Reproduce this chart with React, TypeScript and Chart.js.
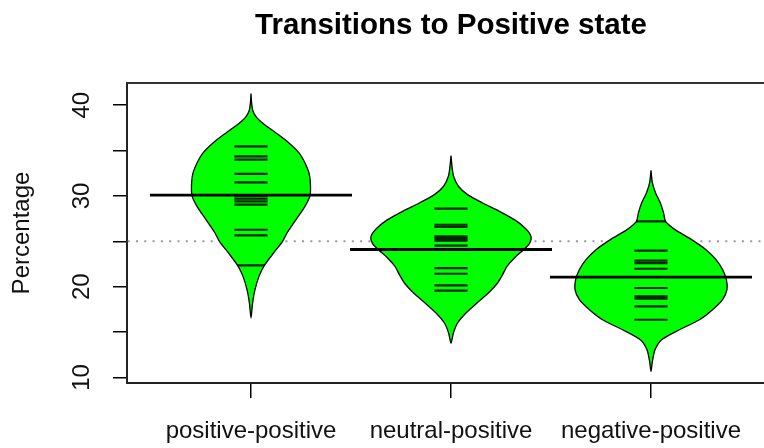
import React, { useEffect, useRef } from 'react';
import { Chart, registerables } from 'chart.js';

Chart.register(...registerables);

const FONT = '"Liberation Sans", Arial, Helvetica, sans-serif';

const chartTitle = 'Transitions to Positive state';
const yAxisTitle = 'Percentage';
const categories = ['positive-positive', 'neutral-positive', 'negative-positive'];
const beanPositions = [1, 2, 3];
const yTicks = [10, 15, 20, 25, 30, 35, 40];
const yTickLabels = [10, 20, 30, 40];

const groupMeans = [30.1, 24.1, 21.05];
const overallMean = 25.0;

// individual observations (bean lines)
const positivePositiveObs = [35.47, 34.37, 34.0, 32.43, 31.5, 30.03, 29.7, 29.4, 29.04, 26.28, 25.66, 22.35];
const neutralPositiveObs = [28.6, 26.83, 26.58, 25.55, 25.29, 25.07, 24.52, 22.06, 21.43, 20.14, 19.56];
const negativePositiveObs = [27.2, 23.97, 22.87, 22.61, 21.98, 19.86, 18.93, 18.68, 17.83, 16.36];

// bean density outlines: level (y) and half-width (x units)
const positivePositiveDensityY = [41.29, 40.26, 39.34, 38.6, 37.87, 36.95, 35.85, 34.75, 33.64, 32.54, 31.44, 30.04, 28.86, 27.39, 25.92, 25.0, 23.72, 22.35, 21.14, 19.67, 18.2, 16.55];
const positivePositiveDensityW = [0, 0.003, 0.01, 0.03, 0.067, 0.125, 0.19, 0.24, 0.27, 0.29, 0.297, 0.295, 0.27, 0.225, 0.18, 0.158, 0.113, 0.067, 0.04, 0.02, 0.008, 0];
const neutralPositiveDensityY = [34.45, 33.27, 32.17, 31.07, 30.15, 29.23, 28.31, 27.39, 26.47, 25.55, 24.75, 24.08, 23.17, 22.24, 21.33, 20.41, 19.3, 18.2, 17.1, 16.0, 14.9, 13.79];
const neutralPositiveDensityW = [0, 0.005, 0.013, 0.037, 0.083, 0.158, 0.242, 0.317, 0.37, 0.4, 0.392, 0.363, 0.317, 0.28, 0.258, 0.233, 0.187, 0.13, 0.075, 0.033, 0.012, 0];
const negativePositiveDensityY = [32.83, 31.44, 30.34, 29.23, 28.13, 27.2, 26.29, 25.19, 24.08, 22.98, 21.88, 20.78, 19.67, 18.57, 17.47, 16.36, 15.26, 14.16, 13.05, 11.76, 10.66];
const negativePositiveDensityW = [0, 0.007, 0.023, 0.047, 0.063, 0.073, 0.12, 0.203, 0.275, 0.325, 0.358, 0.377, 0.38, 0.358, 0.308, 0.242, 0.142, 0.053, 0.02, 0.007, 0];

const observations = [positivePositiveObs, neutralPositiveObs, negativePositiveObs];
const densityY = [positivePositiveDensityY, neutralPositiveDensityY, negativePositiveDensityY];
const densityW = [positivePositiveDensityW, neutralPositiveDensityW, negativePositiveDensityW];

const X_MIN = 0.38;
const X_MAX = 3.565;
const Y_MIN = 9.39;
const Y_MAX = 42.45;
const BEANLINE_HALF = 0.083;
const MEANLINE_HALF = 0.505;

function beanOutline(i: number) {
  const c = beanPositions[i];
  const ys = densityY[i];
  const ws = densityW[i];
  const pts: { x: number; y: number }[] = [];
  for (let k = 0; k < ys.length; k++) pts.push({ x: c - ws[k], y: ys[k] });
  for (let k = ys.length - 2; k >= 0; k--) pts.push({ x: c + ws[k], y: ys[k] });
  return pts;
}

function beanLines(i: number) {
  const c = beanPositions[i];
  const pts: { x: number; y: number | null }[] = [];
  observations[i].forEach((v) => {
    pts.push({ x: c - BEANLINE_HALF, y: v });
    pts.push({ x: c + BEANLINE_HALF, y: v });
    pts.push({ x: c, y: null });
  });
  return pts;
}

function meanLines() {
  const pts: { x: number; y: number | null }[] = [];
  groupMeans.forEach((m, i) => {
    const c = beanPositions[i];
    pts.push({ x: c - MEANLINE_HALF, y: m });
    pts.push({ x: c + MEANLINE_HALF, y: m });
    pts.push({ x: c, y: null });
  });
  return pts;
}

const beanClipPlugin = {
  id: 'beanClip',
  beforeDatasetDraw(chart: any, args: any) {
    const ds = chart.data.datasets[args.index];
    if (ds.clipToBean === undefined) return;
    const line = chart.getDatasetMeta(ds.clipToBean).dataset;
    const ctx = chart.ctx;
    ctx.save();
    ctx.beginPath();
    line.path(ctx);
    ctx.closePath();
    ctx.clip();
  },
  afterDatasetDraw(chart: any, args: any) {
    const ds = chart.data.datasets[args.index];
    if (ds.clipToBean === undefined) return;
    chart.ctx.restore();
  },
};

const boxAndTitlePlugin = {
  id: 'boxAndTitle',
  beforeDatasetsDraw(chart: any) {
    const { ctx, chartArea } = chart;
    ctx.save();
    ctx.strokeStyle = '#333';
    ctx.lineWidth = 2;
    ctx.beginPath();
    ctx.moveTo(chartArea.left, chartArea.top);
    ctx.lineTo(chartArea.right, chartArea.top);
    ctx.stroke();
    ctx.restore();
  },
  afterDraw(chart: any) {
    const { ctx } = chart;
    const xs = chart.scales.x;
    ctx.save();
    ctx.font = `bold 29.5px ${FONT}`;
    ctx.fillStyle = '#000';
    ctx.textAlign = 'center';
    ctx.textBaseline = 'alphabetic';
    ctx.fillText(chartTitle, xs.getPixelForValue(beanPositions[1]), 33.5);
    ctx.restore();
  },
};

export default function App() {
  const ref = useRef<HTMLCanvasElement | null>(null);

  useEffect(() => {
    if (!ref.current) return;
    const datasets: any[] = [];
    for (let i = 0; i < 3; i++) {
      datasets.push({
        type: 'line',
        data: beanOutline(i),
        borderColor: '#000',
        borderWidth: 1.3,
        backgroundColor: '#00ff00',
        fill: 'shape',
        tension: 0.25,
        pointRadius: 0,
        order: 3,
      });
    }
    for (let i = 0; i < 3; i++) {
      datasets.push({
        type: 'line',
        data: beanLines(i),
        borderColor: 'rgba(0,0,0,0.85)',
        borderWidth: 2.2,
        borderCapStyle: 'butt',
        fill: false,
        pointRadius: 0,
        spanGaps: false,
        clipToBean: i,
        order: 2,
      });
    }
    datasets.push({
      type: 'line',
      data: meanLines(),
      borderColor: '#000',
      borderWidth: 2.8,
      fill: false,
      pointRadius: 0,
      spanGaps: false,
      order: 1,
    });
    datasets.push({
      type: 'line',
      data: [
        { x: X_MIN, y: overallMean },
        { x: X_MAX, y: overallMean },
      ],
      borderColor: '#999',
      borderWidth: 2,
      borderDash: [2, 6.3],
      borderDashOffset: 7.6,
      fill: false,
      pointRadius: 0,
      order: 4,
    });

    const chart = new Chart(ref.current, {
      type: 'line',
      data: { datasets },
      plugins: [beanClipPlugin, boxAndTitlePlugin],
      options: {
        animation: false,
        responsive: false,
        devicePixelRatio: 1,
        layout: { padding: { top: 83, left: 0, right: 0, bottom: 0 } },
        plugins: {
          legend: { display: false },
          tooltip: { enabled: false },
          title: { display: false },
        },
        scales: {
          x: {
            type: 'linear',
            min: X_MIN,
            max: X_MAX,
            afterBuildTicks: (scale: any) => {
              scale.ticks = beanPositions.map((v) => ({ value: v }));
            },
            afterFit: (scale: any) => {
              scale.height = 65;
            },
            ticks: {
              callback: (_v: any, idx: number) => categories[idx],
              font: { family: FONT, size: 24 },
              color: '#111',
              padding: 19,
              maxRotation: 0,
              minRotation: 0,
              autoSkip: false,
            },
            grid: {
              drawOnChartArea: false,
              drawTicks: true,
              tickLength: 15,
              color: '#000',
              lineWidth: 1.5,
            },
            border: { display: true, color: '#222', width: 2 },
          },
          y: {
            type: 'linear',
            min: Y_MIN,
            max: Y_MAX,
            afterBuildTicks: (scale: any) => {
              scale.ticks = yTicks.map((v) => ({ value: v }));
            },
            afterFit: (scale: any) => {
              scale.width = 127;
            },
            ticks: {
              callback: (v: any) => (yTickLabels.includes(v) ? String(v) : ''),
              font: { family: FONT, size: 24 },
              color: '#111',
              padding: 17,
              minRotation: 90,
              maxRotation: 90,
              crossAlign: 'center',
              autoSkip: false,
            },
            grid: {
              drawOnChartArea: false,
              drawTicks: true,
              tickLength: 14,
              color: '#000',
              lineWidth: 1.5,
            },
            border: { display: true, color: '#222', width: 2 },
            title: {
              display: true,
              text: yAxisTitle,
              font: { family: FONT, size: 24 },
              color: '#111',
              padding: { top: 8, bottom: 0 },
            },
          },
        },
      } as any,
    });
    return () => chart.destroy();
  }, []);

  return (
    <div style={{ position: 'absolute', left: 0, top: 0, width: 764, height: 448, background: '#fff' }}>
      <canvas ref={ref} width={764} height={448} style={{ display: 'block' }} />
    </div>
  );
}
